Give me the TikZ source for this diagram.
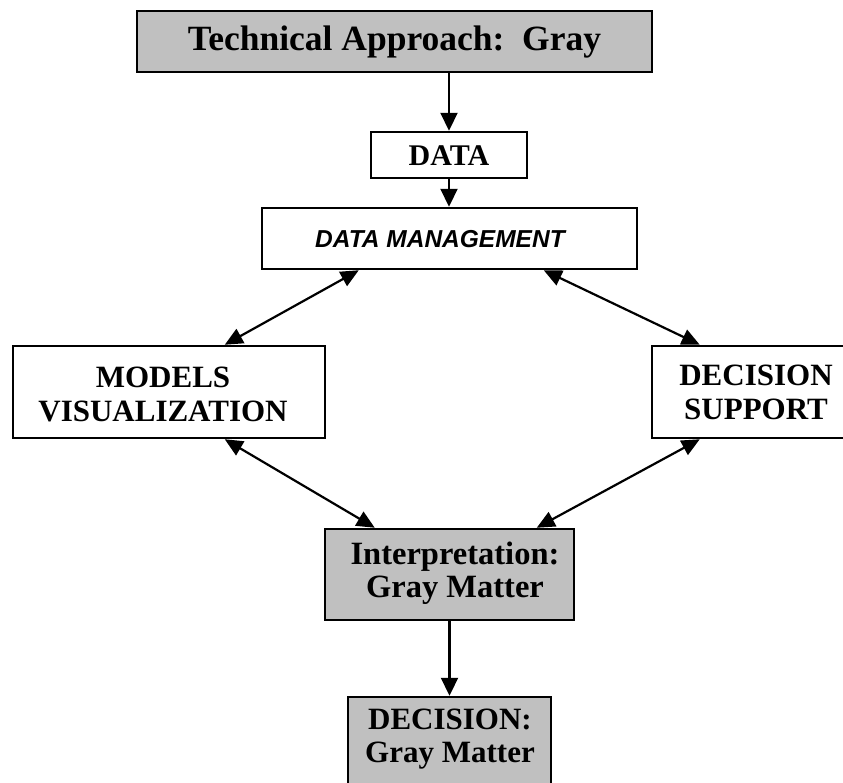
\documentclass[tikz,border=0pt]{standalone}
\usepackage{fontspec}
\setmainfont{Liberation Serif}
\newfontfamily\arialfont{Liberation Sans}
\usetikzlibrary{arrows.meta,calc}
\definecolor{boxgray}{HTML}{C0C0C0}
\tikzset{
  box/.style={draw=black, line width=2.5pt, rectangle, inner sep=0pt},
  graybox/.style={box, fill=boxgray},
  whitebox/.style={box, fill=white},
  lbl/.style={font=\bfseries\fontsize{31}{34}\selectfont, align=center, inner sep=0pt},
  conn/.style={line width=2.2pt, -{Triangle[length=18pt,width=17pt]}},
  dconn/.style={line width=2.2pt, {Triangle[length=18pt,width=16pt]}-{Triangle[length=18pt,width=16pt]}},
}
\begin{document}
\begin{tikzpicture}[x=1pt,y=-1pt]
\useasboundingbox (0,0) rectangle (843,782);
\clip (0,0) rectangle (843,782);
% boxes
\node[graybox, minimum width=515pt, minimum height=61pt] (top) at (394.5,41.5) {};
\node[whitebox, minimum width=156pt, minimum height=46pt] (data) at (449,155) {};
\node[whitebox, minimum width=375pt, minimum height=61pt] (dm) at (449.5,238.5) {};
\node[whitebox, minimum width=312pt, minimum height=92pt] (models) at (169,392) {};
\node[whitebox, minimum width=210pt, minimum height=92pt] (ds) at (757,392) {};
\node[graybox, minimum width=249pt, minimum height=91pt] (interp) at (449.5,574.5) {};
\node[graybox, minimum width=203pt, minimum height=110pt] (dec) at (449.5,752) {};
% labels
\node[lbl, font=\bfseries\fontsize{35.5}{38}\selectfont] (ttop) at (394.5,42) {Technical Approach:\ \ Gray};
\node[lbl, font=\bfseries\fontsize{30}{32}\selectfont] (tdata) at (449,156) {DATA};
\node[lbl, font=\arialfont\bfseries\itshape\fontsize{24.5}{26}\selectfont] (tdm) at (440,239) {DATA MANAGEMENT};
\node[lbl] (tmodels) at (163,394) {MODELS\\VISUALIZATION};
\node[lbl] (tds) at (756,392) {DECISION\\SUPPORT};
\node[lbl, font=\bfseries\fontsize{32.5}{33}\selectfont] (tinterp) at (455,573) {Interpretation:\\Gray Matter};
\node[lbl, font=\bfseries\fontsize{31}{33}\selectfont] (tdec) at (450,739) {DECISION:\\Gray Matter};
% connectors
\draw[conn] (top.south -| data.north) -- (data.north);
\draw[conn] (data.south) -- (data.south |- dm.north);
\draw[dconn] ($(dm.south west)+(98,0)$) -- ($(models.north west)+(213,0)$);
\draw[dconn] ($(dm.south west)+(283,0)$) -- ($(ds.north west)+(49,0)$);
\draw[dconn] ($(models.south west)+(213,0)$) -- ($(interp.north west)+(51,0)$);
\draw[dconn] ($(ds.south west)+(49,0)$) -- ($(interp.north west)+(213,0)$);
\draw[conn] (interp.south -| dec.north) -- (dec.north);
\end{tikzpicture}
\end{document}
